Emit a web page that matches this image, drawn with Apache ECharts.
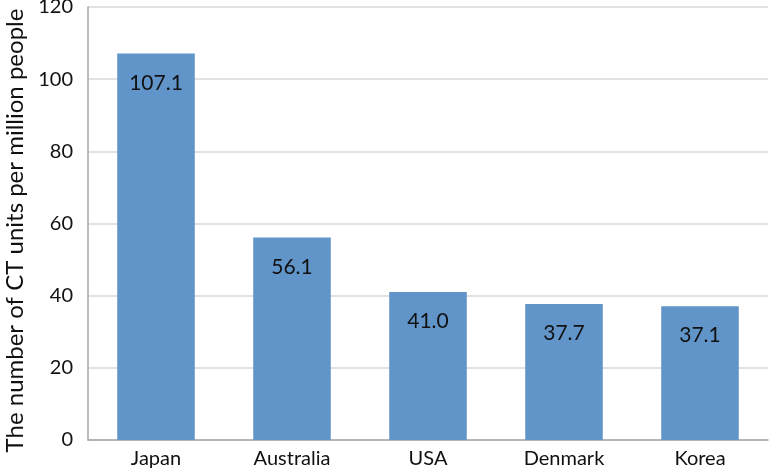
<!DOCTYPE html>
<html><head><meta charset="utf-8">
<script src="https://cdn.jsdelivr.net/npm/echarts@6/dist/echarts.min.js"></script>
<style>html,body{margin:0;padding:0;background:#fff}#c{width:770px;height:470px}</style>
</head><body><div id="c"></div>
<script>
const categories = ["Japan", "Australia", "USA", "Denmark", "Korea"];
const values = [107.1, 56.1, 41.0, 37.7, 37.1];
const yTicks = [0, 20, 40, 60, 80, 100, 120];
const yTitle = "The number of CT units per million people";

const chart = echarts.init(document.getElementById('c'));
chart.setOption({
  animation: false,
  grid: { left: 88, right: 2, top: 7, bottom: 30, containLabel: false, outerBoundsMode: 'none' },
  xAxis: {
    type: 'category', data: categories,
    axisLine: { lineStyle: { color: '#a6a6a6', width: 1.5 } },
    axisTick: { show: false },
    axisLabel: { color: '#111', fontFamily: 'Lato', fontSize: 20, margin: 9 }
  },
  yAxis: {
    type: 'value', min: yTicks[0], max: yTicks[yTicks.length - 1], interval: 20,
    name: yTitle, nameLocation: 'middle', nameGap: 61,
    nameTextStyle: { color: '#111', fontFamily: 'Lato', fontSize: 24, padding: [0, 14, 0, 0] },
    axisLine: { show: true, lineStyle: { color: '#a6a6a6', width: 1.5 } },
    axisTick: { show: false },
    axisLabel: { color: '#111', fontFamily: 'Lato', fontSize: 20, margin: 15 },
    splitLine: { lineStyle: { color: '#d9d9d9', width: 1.5 } }
  },
  series: [{
    type: 'bar', data: values, barCategoryGap: '43%',
    itemStyle: { color: '#6195c9' },
    label: {
      show: true, position: 'insideTop', distance: 19,
      color: '#111', fontFamily: 'Lato', fontSize: 21,
      formatter: p => p.value.toFixed(1)
    }
  }]
});
</script></body></html>
